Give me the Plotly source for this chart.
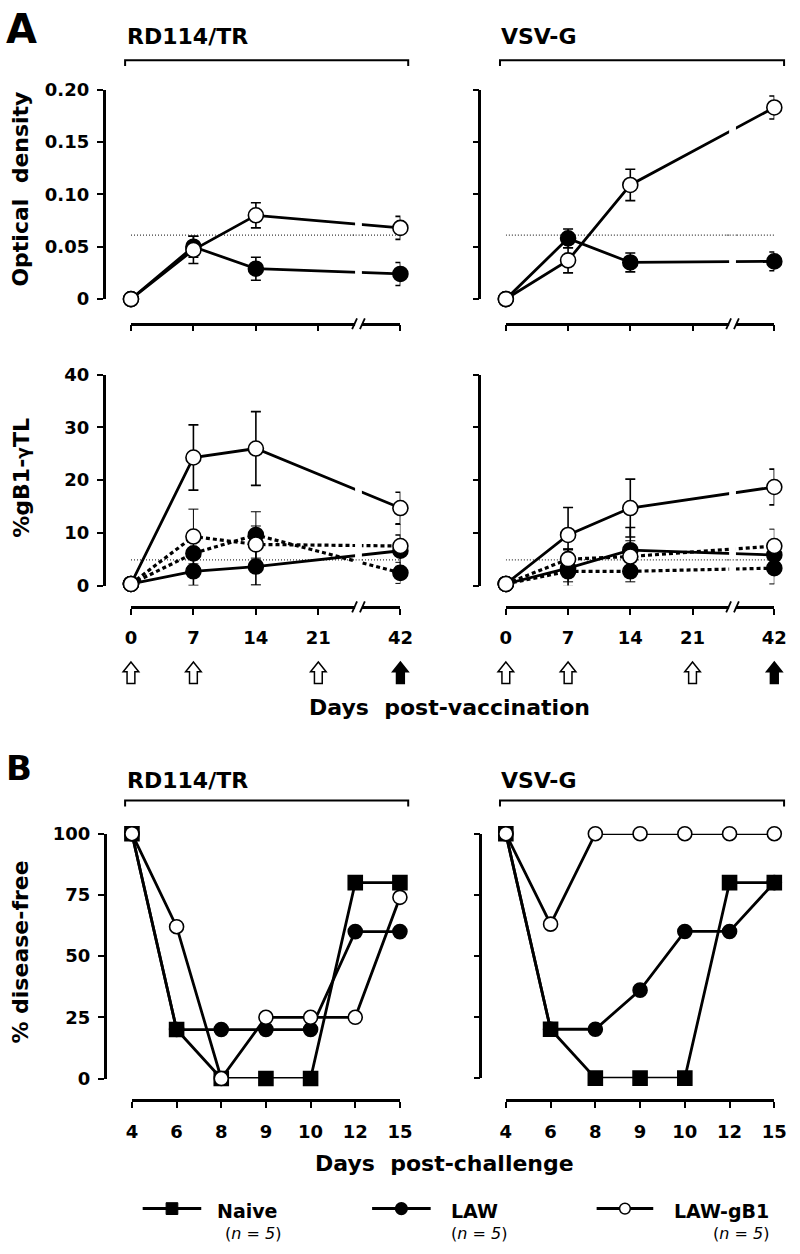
import plotly.graph_objects as go

W, H = 800, 1254
FONT = "DejaVu Sans"

# ---------------- data ----------------
vacc_ticks = [0, 7, 14, 21, 42]
vacc_days = [0, 7, 14, 42]
arrow_days = [0, 7, 21, 42]
arrow_filled = [False, False, False, True]

od_ticks = [0, 0.05, 0.10, 0.15, 0.20]
od_ticktext = ["0", "0.05", "0.10", "0.15", "0.20"]
od_cutoff = 0.061
od_rd_law = [0.0, 0.050, 0.029, 0.024]
od_rd_law_err = [0, 0.010, 0.011, 0.011]
od_rd_gb1 = [0.0, 0.047, 0.080, 0.068]
od_rd_gb1_err = [0, 0.013, 0.012, 0.011]
od_vsv_law = [0.0, 0.058, 0.035, 0.036]
od_vsv_law_err = [0, 0.009, 0.009, 0.009]
od_vsv_gb1 = [0.0, 0.037, 0.109, 0.183]
od_vsv_gb1_err = [0, 0.012, 0.015, 0.011]

tl_ticks = [0, 10, 20, 30, 40]
tl_cutoff = 4.85
tl_rd_law = [0.3, 2.7, 3.6, 6.6]
tl_rd_law_err = [0, 2.7, 3.5, 3.0]
tl_rd_law_ctrl = [0.3, 6.1, 9.6, 2.4]
tl_rd_law_ctrl_err = [0, 3.0, 4.4, 2.0]
tl_rd_gb1 = [0.3, 24.3, 26.0, 14.7]
tl_rd_gb1_err = [0, 6.2, 7.0, 3.0]
tl_rd_gb1_ctrl = [0.3, 9.3, 7.8, 7.5]
tl_rd_gb1_ctrl_err = [0, 5.2, 3.5, 4.1]
tl_vsv_law = [0.3, 3.3, 6.7, 5.8]
tl_vsv_law_err = [0, 3.5, 4.3, 2.5]
tl_vsv_law_ctrl = [0.3, 2.7, 2.7, 3.3]
tl_vsv_law_ctrl_err = [0, 2.0, 2.0, 3.0]
tl_vsv_gb1 = [0.3, 9.6, 14.7, 18.7]
tl_vsv_gb1_err = [0, 5.2, 5.5, 3.4]
tl_vsv_gb1_ctrl = [0.3, 5.0, 5.5, 7.5]
tl_vsv_gb1_ctrl_err = [0, 2.0, 3.0, 3.2]

chal_days = ["4", "6", "8", "9", "10", "12", "15"]
df_ticks = [0, 25, 50, 75, 100]
rd_naive = [100, 20, 0, 0, 0, 80, 80]
rd_law = [100, 20, 20, 20, 20, 60, 60]
rd_gb1 = [100, 62, 0, 25, 25, 25, 74]
vsv_naive = [100, 20, 0, 0, 0, 80, 80]
vsv_law = [100, 20, 20, 36, 60, 60, 80]
vsv_gb1 = [100, 63, 100, 100, 100, 100, 100]

groups = ["RD114/TR", "VSV-G"]
legend_names = ["Naive", "LAW", "LAW-gB1"]


# ---------------- helpers ----------------
def px(x):
    return x / W


def py(y):
    return 1 - y / H


def vpos(d):  # broken x axis: 21 -> 42 compressed
    return d if d <= 21 else 21 + (d - 21) * 0.438


VR = [0, vpos(42)]
BREAK = 25.5
CR = [0, len(chal_days) - 1]

panels = {
    1: dict(x=(128, 404), y=(80, 293), yax=100, xax=318, xr=VR),
    2: dict(x=(512, 787), y=(80, 293), yax=485, xax=318, xr=VR),
    3: dict(x=(128, 404), y=(370, 584.3), yax=100, xax=606, xr=VR),
    4: dict(x=(512, 787), y=(370, 584.3), yax=485, xax=606, xr=VR),
    5: dict(x=(129, 403.5), y=(836.7, 1085.7), yax=101, xax=1108, xr=CR),
    6: dict(x=(512, 787), y=(836.7, 1085.3), yax=486, xax=1108, xr=CR),
}


def xpix(p, v):
    P = panels[p]
    r0, r1 = P["xr"]
    return P["x"][0] + (v - r0) / (r1 - r0) * (P["x"][1] - P["x"][0])


def aid(p):
    return ("x", "y") if p == 1 else (f"x{p}", f"y{p}")


fig = go.Figure()


def add(p, xs, ys, err=None, filled=False, dotted=False, symbol="circle", size=15):
    xa, ya = aid(p)
    tr = dict(
        x=xs, y=ys, xaxis=xa, yaxis=ya, mode="lines+markers", cliponaxis=False,
        showlegend=False, hoverinfo="skip",
        line=dict(color="black", width=3.2 if dotted else 2.8,
                  dash="4px,3px" if dotted else "solid"),
        marker=dict(symbol=symbol, size=size, color="black" if filled else "white",
                    line=dict(color="black", width=1.6)),
    )
    if err is not None:
        tr["error_y"] = dict(type="data", array=err, visible=True, color="black",
                             thickness=1 if dotted else 1.6, width=5)
    fig.add_trace(go.Scatter(**tr))


def cutoff(p, val):
    xa, ya = aid(p)
    fig.add_trace(go.Scatter(x=[vpos(vacc_ticks[0]), vpos(vacc_ticks[-1])], y=[val, val],
                             xaxis=xa, yaxis=ya, mode="lines", showlegend=False,
                             hoverinfo="skip",
                             line=dict(color="#333", width=1.2, dash="1px,2px")))


vx = [vpos(d) for d in vacc_days]
cx = list(range(len(chal_days)))

# top: optical density
for p, law, lawe, gb, gbe in [(1, od_rd_law, od_rd_law_err, od_rd_gb1, od_rd_gb1_err),
                              (2, od_vsv_law, od_vsv_law_err, od_vsv_gb1, od_vsv_gb1_err)]:
    cutoff(p, od_cutoff)
    add(p, vx, law, lawe, filled=True)
    add(p, vx, gb, gbe, filled=False)

# middle: %gB1-gammaTL
for p, a, ae, b, be, c, ce, d, de in [
        (3, tl_rd_law, tl_rd_law_err, tl_rd_law_ctrl, tl_rd_law_ctrl_err,
         tl_rd_gb1, tl_rd_gb1_err, tl_rd_gb1_ctrl, tl_rd_gb1_ctrl_err),
        (4, tl_vsv_law, tl_vsv_law_err, tl_vsv_law_ctrl, tl_vsv_law_ctrl_err,
         tl_vsv_gb1, tl_vsv_gb1_err, tl_vsv_gb1_ctrl, tl_vsv_gb1_ctrl_err)]:
    cutoff(p, tl_cutoff)
    add(p, vx, a, ae, filled=True)
    add(p, vx, b, be, filled=True, dotted=True)
    add(p, vx, c, ce, filled=False)
    add(p, vx, d, de, filled=False, dotted=True)

# bottom: % disease-free
for p, n, l, g in [(5, rd_naive, rd_law, rd_gb1), (6, vsv_naive, vsv_law, vsv_gb1)]:
    add(p, cx, n, filled=True, symbol="square", size=14)
    add(p, cx, l, filled=True, size=14)
    add(p, cx, g, filled=False, size=14)

# ---------------- axes ----------------
tickfont = dict(family=FONT, size=18, color="black", weight="bold")
layout = dict(width=W, height=H, margin=dict(l=0, r=0, t=0, b=0),
              plot_bgcolor="white", paper_bgcolor="white", showlegend=False)

for p, P in panels.items():
    xk = "xaxis" if p == 1 else f"xaxis{p}"
    yk = "yaxis" if p == 1 else f"yaxis{p}"
    if p <= 4:
        tv = [vpos(d) for d in vacc_ticks]
        tt = [str(d) for d in vacc_ticks]
    else:
        tv = cx
        tt = chal_days
    layout[xk] = dict(domain=[px(P["x"][0]), px(P["x"][1])], anchor="free",
                      position=py(P["xax"]), range=P["xr"], tickvals=tv, ticktext=tt,
                      showticklabels=p >= 3, ticks="outside", ticklen=6, tickwidth=2,
                      tickcolor="black", showline=True, linewidth=2.5, linecolor="black",
                      showgrid=False, zeroline=False, tickfont=tickfont,
                      ticklabelstandoff=8, fixedrange=True)
    if p <= 2:
        ytv, ytt, yr = od_ticks, od_ticktext, [0, 0.20]
    elif p <= 4:
        ytv, ytt, yr = tl_ticks, [str(v) for v in tl_ticks], [0, 40]
    else:
        ytv, ytt, yr = df_ticks, [str(v) for v in df_ticks], [0, 100]
    layout[yk] = dict(domain=[py(P["y"][1]), py(P["y"][0])], anchor="free",
                      position=px(P["yax"]), range=yr, tickvals=ytv, ticktext=ytt,
                      showticklabels=(p % 2 == 1), ticks="outside", ticklen=6, tickwidth=2,
                      tickcolor="black", showline=True, linewidth=2.5, linecolor="black",
                      showgrid=False, zeroline=False, tickfont=tickfont,
                      ticklabelstandoff=4, fixedrange=True)

# ---------------- shapes ----------------
shapes = []
for p in (1, 2, 3, 4):
    P = panels[p]
    c = xpix(p, BREAK)
    ya = aid(p)[1]
    # gap in data lines
    shapes.append(dict(type="rect", xref="paper", yref=f"{ya} domain",
                       x0=px(c - 3.5), x1=px(c + 3.5), y0=-0.03, y1=1.05,
                       fillcolor="white", line=dict(width=0), layer="above"))
    cut = od_cutoff if p <= 2 else tl_cutoff
    shapes.append(dict(type="line", xref="paper", yref=ya, x0=px(c - 6), x1=px(c + 6),
                       y0=cut, y1=cut, line=dict(color="#333", width=1.2, dash="1px,2px"),
                       layer="above"))
    # axis break
    yl = P["xax"]
    shapes.append(dict(type="rect", xref="paper", yref="paper",
                       x0=px(c - 3.5), x1=px(c + 3.5), y0=py(yl + 3), y1=py(yl - 3),
                       fillcolor="white", line=dict(width=0), layer="above"))
    for dx in (-4, 4):
        shapes.append(dict(type="line", xref="paper", yref="paper",
                           x0=px(c + dx - 2.5), y0=py(yl + 5.5), x1=px(c + dx + 2.5),
                           y1=py(yl - 5.5), line=dict(color="black", width=1.8),
                           layer="above"))

# group brackets
for (x0, x1) in [(122, 412), (506, 797)]:
    for yb in (50, 803):
        shapes.append(dict(type="path", xref="paper", yref="paper",
                           path=f"M {px(x0)},{py(yb + 6)} L {px(x0)},{py(yb)} "
                                f"L {px(x1)},{py(yb)} L {px(x1)},{py(yb + 6)}",
                           line=dict(color="black", width=2)))


# vaccination arrows
def arrow(cxp, yt, yb, filled):
    hw, sw, hh = 8, 4, 10
    pts = [(cxp, yt), (cxp + hw, yt + hh), (cxp + sw, yt + hh), (cxp + sw, yb),
           (cxp - sw, yb), (cxp - sw, yt + hh), (cxp - hw, yt + hh)]
    path = "M " + " L ".join(f"{px(a)},{py(b)}" for a, b in pts) + " Z"
    return dict(type="path", xref="paper", yref="paper", path=path,
                fillcolor="black" if filled else "white",
                line=dict(color="black", width=1.5))


for p in (3, 4):
    for d, f in zip(arrow_days, arrow_filled):
        shapes.append(arrow(xpix(p, vpos(d)), 662, 684, f))

# legend symbols
leg_lines = [(140, 200), (375, 435), (605, 663)]
leg_y = 1218
for i, (a, b) in enumerate(leg_lines):
    shapes.append(dict(type="line", xref="paper", yref="paper", x0=px(a), x1=px(b),
                       y0=py(leg_y), y1=py(leg_y), line=dict(color="black", width=3)))
    m = (a + b) / 2
    if i == 0:
        shapes.append(dict(type="rect", xref="paper", yref="paper", x0=px(m - 6),
                           x1=px(m + 6), y0=py(leg_y + 6), y1=py(leg_y - 6),
                           fillcolor="black", line=dict(color="black", width=1)))
    else:
        r = 6 if i == 1 else 5.5
        shapes.append(dict(type="circle", xref="paper", yref="paper", x0=px(m - r),
                           x1=px(m + r), y0=py(leg_y + r), y1=py(leg_y - r),
                           fillcolor="black" if i == 1 else "white",
                           line=dict(color="black", width=1.5)))

layout["shapes"] = shapes


# ---------------- annotations ----------------
def ann(text, x, y, size, xanchor="center", yanchor="middle", angle=0, bold=True):
    return dict(text=text, x=px(x), y=py(y), xref="paper", yref="paper",
                showarrow=False, xanchor=xanchor, yanchor=yanchor, textangle=angle,
                font=dict(family=FONT, size=size, color="black",
                          weight="bold" if bold else "normal"))


anns = [
    ann("A", -2, 18, 40, xanchor="left"),
    ann("B", -2, 770, 34, xanchor="left"),
    ann(groups[0], 122, 26, 22, xanchor="left"),
    ann(groups[1], 505, 26, 22, xanchor="left"),
    ann(groups[0], 122, 783, 22, xanchor="left"),
    ann(groups[1], 505, 783, 22, xanchor="left"),
    ann("Optical\u00a0 density", 15, 181, 22, angle=-90),
    ann("%gB1-<span style='font-size:17px'>γ</span>TL", 15, 475, 22, angle=-90),
    ann("% disease-free", 15, 957, 22, angle=-90),
    ann("Days\u00a0 post-vaccination", 454, 708, 22),
    ann("Days\u00a0 post-challenge", 449, 1172, 22),
    ann(legend_names[0], 214, 1220, 19, xanchor="left"),
    ann(legend_names[1], 454, 1220, 19, xanchor="left"),
    ann(legend_names[2], 784, 1220, 19, xanchor="right"),
    ann("(<i>n</i> = <i>5</i>)", 222, 1243, 16, xanchor="left", bold=False),
    ann("(<i>n</i> = <i>5</i>)", 454, 1243, 16, xanchor="left", bold=False),
    ann("(<i>n</i> = <i>5</i>)", 784, 1243, 16, xanchor="right", bold=False),
]
layout["annotations"] = anns

fig.update_layout(**layout)
fig.write_html(
    "out.html",
    config={"displayModeBar": False},
    post_script="document.body.style.margin='0';document.body.style.overflow='hidden';",
)
